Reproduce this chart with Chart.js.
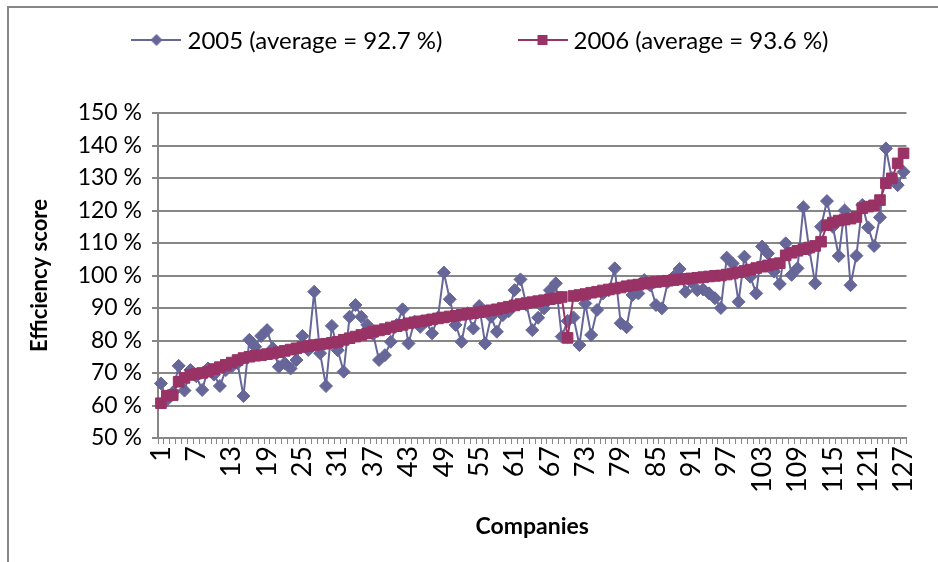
<!DOCTYPE html>
<html>
<head>
<meta charset="utf-8">
<script src="https://cdn.jsdelivr.net/npm/chart.js@4"></script>
<style>
  body { margin: 0; background: #fff; }
  #wrap { position: relative; width: 938px; height: 562px; overflow: hidden; }
  #frame { position: absolute; left: 7px; top: 6px; width: 960px; height: 600px;
           border-top: 2px solid #878787; border-left: 2px solid #878787; pointer-events: none; }
</style>
</head>
<body>
<div id="wrap">
  <canvas id="chart" width="938" height="562"></canvas>
  <div id="frame"></div>
</div>
<script>
// ================= DATA =================
const companies = Array.from({ length: 127 }, (_, i) => String(i + 1));

const seriesNames = ["2005 (average = 92.7 %)", "2006 (average = 93.6 %)"];

const eff2005 = [
  66.8, 61.7, 64.0, 72.2, 64.6, 70.9, 69.0, 64.8, 71.4, 69.5,
  66.0, 70.9, 72.0, 73.0, 62.9, 80.2, 78.1, 81.4, 83.2, 77.6,
  71.9, 73.0, 71.4, 74.0, 81.4, 77.1, 95.0, 76.1, 66.0, 84.5,
  77.0, 70.4, 87.3, 90.9, 87.3, 84.8, 82.0, 74.0, 75.5, 79.6,
  84.8, 89.6, 79.1, 85.8, 84.2, 86.0, 82.2, 87.1, 100.9, 92.7,
  84.8, 79.6, 88.4, 83.7, 90.6, 79.1, 87.3, 82.7, 87.8, 89.0,
  95.5, 98.8, 91.0, 83.2, 87.0, 89.9, 95.5, 97.6, 81.2, 86.0,
  87.1, 78.6, 91.4, 81.7, 89.4, 94.5, 95.5, 102.2, 85.3, 84.1,
  94.0, 94.5, 98.6, 97.0, 90.9, 89.9, 98.0, 99.6, 102.0, 95.0,
  98.0, 95.5, 95.7, 94.5, 93.0, 90.0, 105.5, 103.7, 91.9, 105.8,
  99.6, 94.5, 108.9, 106.8, 101.2, 97.4, 109.9, 100.2, 102.2, 121.0,
  108.0, 97.6, 115.0, 122.9, 115.0, 106.0, 120.0, 97.0, 106.1, 121.7,
  114.8, 109.1, 117.9, 139.1, 130.0, 127.8, 131.9
];

const eff2006 = [
  60.7, 63.0, 63.2, 67.3, 68.5, 69.4, 69.8, 70.0, 70.4, 71.2,
  71.8, 72.5, 73.2, 74.0, 74.6, 75.0, 75.3, 75.5, 75.8, 76.0,
  76.4, 76.8, 77.2, 77.6, 78.0, 78.3, 78.6, 78.8, 79.0, 79.3,
  79.6, 80.2, 80.7, 81.2, 81.7, 82.2, 82.7, 83.1, 83.5, 84.0,
  84.4, 84.8, 85.3, 85.6, 85.9, 86.2, 86.5, 86.8, 87.1, 87.4,
  87.6, 87.9, 88.2, 88.4, 88.7, 89.0, 89.3, 89.6, 90.0, 90.4,
  90.8, 91.2, 91.5, 91.8, 92.1, 92.4, 92.7, 93.0, 93.4, 80.8,
  93.7, 94.0, 94.3, 94.7, 95.0, 95.4, 95.7, 96.0, 96.3, 96.7,
  97.0, 97.2, 97.5, 97.8, 98.0, 98.2, 98.4, 98.6, 98.8, 99.0,
  99.1, 99.3, 99.5, 99.7, 99.9, 100.0, 100.3, 100.6, 101.0, 101.4,
  101.8, 102.3, 102.7, 103.1, 103.5, 103.8, 106.2, 107.0, 107.6, 108.1,
  108.6, 109.1, 110.4, 115.5, 116.3, 116.9, 117.2, 117.5, 118.0, 120.7,
  121.2, 121.6, 123.2, 128.4, 129.9, 134.5, 137.6
];

const yTicks = { min: 50, max: 150, step: 10 };

// ================= STYLE =================
const FONT = "Lato, 'Liberation Sans', sans-serif";
const GRID = "#878787";
const C2005 = "#666699";
const C2006 = "#993366";

// legend marker: a short line with the series marker on it, like Excel
function legendMarker(color, shape) {
  const c = document.createElement("canvas");
  c.width = 50;
  c.height = 16;
  const ctx = c.getContext("2d");
  ctx.strokeStyle = color;
  ctx.lineWidth = 2;
  ctx.beginPath();
  ctx.moveTo(0, 8);
  ctx.lineTo(50, 8);
  ctx.stroke();
  ctx.fillStyle = color;
  ctx.beginPath();
  if (shape === "diamond") {
    ctx.moveTo(25, 2); ctx.lineTo(31, 8); ctx.lineTo(25, 14); ctx.lineTo(19, 8);
  } else {
    ctx.rect(20, 3, 10, 10);
  }
  ctx.closePath();
  ctx.fill();
  return c;
}
const legendIcons = [legendMarker(C2005, "diamond"), legendMarker(C2006, "square")];

// Excel-style legend row above the plot
const excelLegend = {
  id: "excelLegend",
  afterDraw(chart) {
    const ctx = chart.ctx;
    ctx.save();
    ctx.font = "24px " + FONT;
    ctx.fillStyle = "#000";
    ctx.textBaseline = "middle";
    const icon = 50, gap = 6, sep = 75, y = 40;
    const widths = chart.data.datasets.map(d => ctx.measureText(d.label).width);
    const total = widths.reduce((a, b) => a + b, 0) + 2 * (icon + gap) + sep;
    let x = 480 - total / 2;
    chart.data.datasets.forEach((d, i) => {
      ctx.drawImage(legendIcons[i], x, y - 8);
      x += icon + gap;
      ctx.fillText(d.label, x, y + 1);
      x += widths[i] + sep;
    });
    ctx.restore();
  }
};

// ================= CHART =================
new Chart(document.getElementById("chart"), {
  type: "line",
  data: {
    labels: companies,
    datasets: [
      {
        label: seriesNames[0],
        data: eff2005,
        borderColor: C2005,
        backgroundColor: C2005,
        borderWidth: 2,
        pointStyle: "rectRot",
        pointRadius: 6.5,
        pointBorderWidth: 1,
        order: 1
      },
      {
        label: seriesNames[1],
        data: eff2006,
        borderColor: C2006,
        backgroundColor: C2006,
        borderWidth: 2,
        pointStyle: "rect",
        pointRadius: 7.5,
        pointBorderWidth: 1,
        order: 0
      }
    ]
  },
  plugins: [excelLegend],
  options: {
    responsive: false,
    animation: false,
    devicePixelRatio: 1,
    layout: { padding: { top: 113, right: 9, left: 0, bottom: 0 } },
    plugins: {
      tooltip: { enabled: false },
      legend: { display: false }
    },
    scales: {
      x: {
        offset: true,
        afterFit: (s) => { s.height = 124; },
        grid: { offset: true, drawOnChartArea: false, color: GRID, lineWidth: 1, tickLength: 6 },
        border: { color: GRID, width: 2 },
        ticks: {
          autoSkip: false,
          maxRotation: 90,
          minRotation: 90,
          padding: 2,
          color: "#000",
          font: { family: FONT, size: 27 },
          callback: (v, i) => (i % 6 === 0 ? companies[i] : "")
        },
        title: {
          display: true,
          text: "Companies",
          color: "#000",
          font: { family: FONT, size: 23, weight: "bold" },
          padding: { top: 0, bottom: 22 }
        }
      },
      y: {
        min: yTicks.min,
        max: yTicks.max,
        afterFit: (s) => { s.width = 158; },
        grid: { color: GRID, lineWidth: 2, tickLength: 6 },
        border: { color: GRID, width: 2 },
        ticks: {
          stepSize: yTicks.step,
          padding: 10,
          color: "#000",
          font: { family: FONT, size: 23 },
          callback: (v) => v + " %"
        },
        title: {
          display: true,
          text: "Efficiency score",
          color: "#000",
          font: { family: FONT, size: 22, weight: "bold" },
          padding: { top: 27, bottom: 0 }
        }
      }
    }
  }
});
</script>
</body>
</html>
